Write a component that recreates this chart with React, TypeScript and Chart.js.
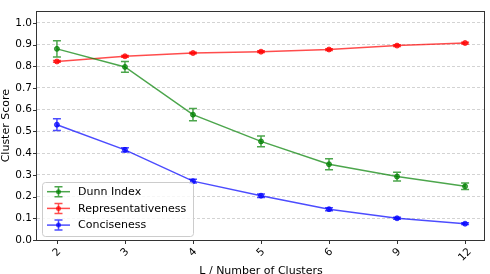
import { useEffect, useRef } from 'react';
import { Chart, registerables } from 'chart.js';

Chart.register(...registerables);

const categories = ['2', '3', '4', '5', '6', '9', '12'];
const dunn = [0.88, 0.797, 0.577, 0.454, 0.349, 0.292, 0.247];
const dunnErr = [0.037, 0.025, 0.028, 0.025, 0.025, 0.02, 0.015];
const rep = [0.822, 0.846, 0.861, 0.867, 0.877, 0.895, 0.907];
const repErr = [0.004, 0.004, 0.004, 0.004, 0.004, 0.004, 0.004];
const conc = [0.531, 0.415, 0.271, 0.204, 0.142, 0.1, 0.075];
const concErr = [0.027, 0.01, 0.009, 0.008, 0.007, 0.005, 0.004];
const yTicks = [0, 0.1, 0.2, 0.3, 0.4, 0.5, 0.6, 0.7, 0.8, 0.9, 1.0];
const seriesNames = ['Dunn Index', 'Representativeness', 'Conciseness'];
const xTitle = 'L / Number of Clusters';
const yTitle = 'Cluster Score';

const COLORS = ['rgba(0,128,0,0.7)', 'rgba(255,0,0,0.7)', 'rgba(0,0,255,0.7)'];
const FONT = '"DejaVu Sans", sans-serif';
const errs = [dunnErr, repErr, concErr];

function drawErrBar(ctx: CanvasRenderingContext2D, x: number, y1: number, y2: number, color: string) {
  ctx.strokeStyle = color;
  ctx.lineWidth = 1.5;
  ctx.beginPath();
  ctx.moveTo(x, y1);
  ctx.lineTo(x, y2);
  ctx.moveTo(x - 4, y1);
  ctx.lineTo(x + 4, y1);
  ctx.moveTo(x - 4, y2);
  ctx.lineTo(x + 4, y2);
  ctx.stroke();
}

const decorPlugin = {
  id: 'decor',
  afterDatasetsDraw(chart: any) {
    const ctx = chart.ctx as CanvasRenderingContext2D;
    const xs = chart.scales.x;
    const ys = chart.scales.y;
    ctx.save();
    chart.data.datasets.forEach((ds: any, di: number) => {
      ds.data.forEach((p: any, i: number) => {
        const e = errs[di][i];
        const x = xs.getPixelForValue(p.x);
        drawErrBar(ctx, x, ys.getPixelForValue(p.y + e), ys.getPixelForValue(p.y - e), COLORS[di]);
      });
    });
    ctx.restore();
  },
  afterDraw(chart: any) {
    const ctx = chart.ctx as CanvasRenderingContext2D;
    const a = chart.chartArea;
    const xs = chart.scales.x;
    const ys = chart.scales.y;
    ctx.save();
    // frame
    ctx.strokeStyle = '#333';
    ctx.lineWidth = 1;
    ctx.strokeRect(Math.round(a.left) - 0.5, Math.round(a.top) + 0.5, Math.round(a.right - a.left) + 0.0, Math.round(a.bottom - a.top) - 0.0);
    // y tick marks
    ctx.beginPath();
    yTicks.forEach((v) => {
      const y = Math.round(ys.getPixelForValue(v)) + 0.5;
      ctx.moveTo(a.left - 4, y);
      ctx.lineTo(a.left, y);
    });
    // x tick marks
    categories.forEach((_, i) => {
      const x = Math.round(xs.getPixelForValue(i)) + 0.5;
      ctx.moveTo(x, a.bottom);
      ctx.lineTo(x, a.bottom + 4);
    });
    ctx.stroke();
    // x tick labels rotated 45
    ctx.fillStyle = '#000';
    ctx.font = `10.5px ${FONT}`;
    ctx.textAlign = 'center';
    ctx.textBaseline = 'middle';
    categories.forEach((c, i) => {
      const x = xs.getPixelForValue(i);
      const w = ctx.measureText(c).width;
      const cy = a.bottom + 7 + (w + 9) * 0.7071 / 2;
      ctx.save();
      ctx.translate(x, cy);
      ctx.rotate(-Math.PI / 4);
      ctx.fillText(c, 0, 0);
      ctx.restore();
    });
    // axis titles
    ctx.font = `11px ${FONT}`;
    ctx.textBaseline = 'alphabetic';
    ctx.textAlign = 'center';
    ctx.fillText(xTitle, (a.left + a.right) / 2, 274);
    ctx.save();
    ctx.translate(8.5, (a.top + a.bottom) / 2);
    ctx.rotate(-Math.PI / 2);
    ctx.fillText(yTitle, 0, 0);
    ctx.restore();
    // legend
    const lx = 42, ly = 182, lw = 151, lh = 54;
    ctx.beginPath();
    ctx.roundRect(lx + 0.5, ly + 0.5, lw, lh, 3);
    ctx.fillStyle = 'rgba(255,255,255,0.8)';
    ctx.fill();
    ctx.strokeStyle = '#cccccc';
    ctx.lineWidth = 1;
    ctx.stroke();
    ctx.font = `11px ${FONT}`;
    ctx.textAlign = 'left';
    ctx.textBaseline = 'middle';
    seriesNames.forEach((name, k) => {
      const y = 191.7 + k * 16.7;
      const col = COLORS[k];
      ctx.strokeStyle = col;
      ctx.lineWidth = 1.5;
      ctx.beginPath();
      ctx.moveTo(47, y);
      ctx.lineTo(70, y);
      ctx.stroke();
      drawErrBar(ctx, 58.5, y - 5, y + 5, col);
      ctx.beginPath();
      ctx.arc(58.5, y, 2.5, 0, Math.PI * 2);
      ctx.fillStyle = col;
      ctx.fill();
      ctx.fillStyle = '#000';
      ctx.fillText(name, 78, y + 0.5);
    });
    ctx.restore();
  },
};

export default function App() {
  const ref = useRef<HTMLCanvasElement | null>(null);
  useEffect(() => {
    document.body.style.margin = '0';
    const mk = (vals: number[]) => vals.map((v, i) => ({ x: i, y: v }));
    const series = [dunn, rep, conc];
    const chart = new Chart(ref.current as HTMLCanvasElement, {
      type: 'line',
      data: {
        datasets: series.map((s, k) => ({
          label: seriesNames[k],
          data: mk(s),
          borderColor: COLORS[k],
          backgroundColor: COLORS[k],
          pointBackgroundColor: COLORS[k],
          pointBorderColor: COLORS[k],
          borderWidth: 1.5,
          pointRadius: 2.5,
          pointBorderWidth: 1,
          tension: 0,
          fill: false,
        })),
      },
      options: {
        responsive: false,
        animation: false,
        devicePixelRatio: 1,
        layout: { padding: { left: 0, top: 3, right: 3, bottom: 0 } },
        plugins: { legend: { display: false }, tooltip: { enabled: false }, title: { display: false } },
        scales: {
          x: {
            type: 'linear',
            min: -0.293,
            max: 6.293,
            grid: { display: false, drawTicks: false },
            border: { display: false },
            ticks: { display: false },
            afterFit: (s: any) => { s.height = 34; },
          },
          y: {
            type: 'linear',
            min: 0,
            max: 1.053,
            afterBuildTicks: (s: any) => { s.ticks = yTicks.map((v) => ({ value: v })); },
            grid: { color: 'rgba(176,176,176,0.7)', lineWidth: 0.8, drawTicks: false, tickLength: 0 },
            border: { display: false, dash: [3, 2] },
            ticks: {
              padding: 5,
              color: '#000',
              font: { family: FONT, size: 10.5 },
              callback: (v: any) => Number(v).toFixed(1),
            },
            afterFit: (s: any) => { s.width = 37; },
          },
        },
      },
      plugins: [decorPlugin],
    } as any);
    return () => chart.destroy();
  }, []);
  return (
    <div style={{ width: 490, height: 274, position: 'relative' }}>
      <canvas ref={ref} width={490} height={274} style={{ display: 'block' }} />
    </div>
  );
}
